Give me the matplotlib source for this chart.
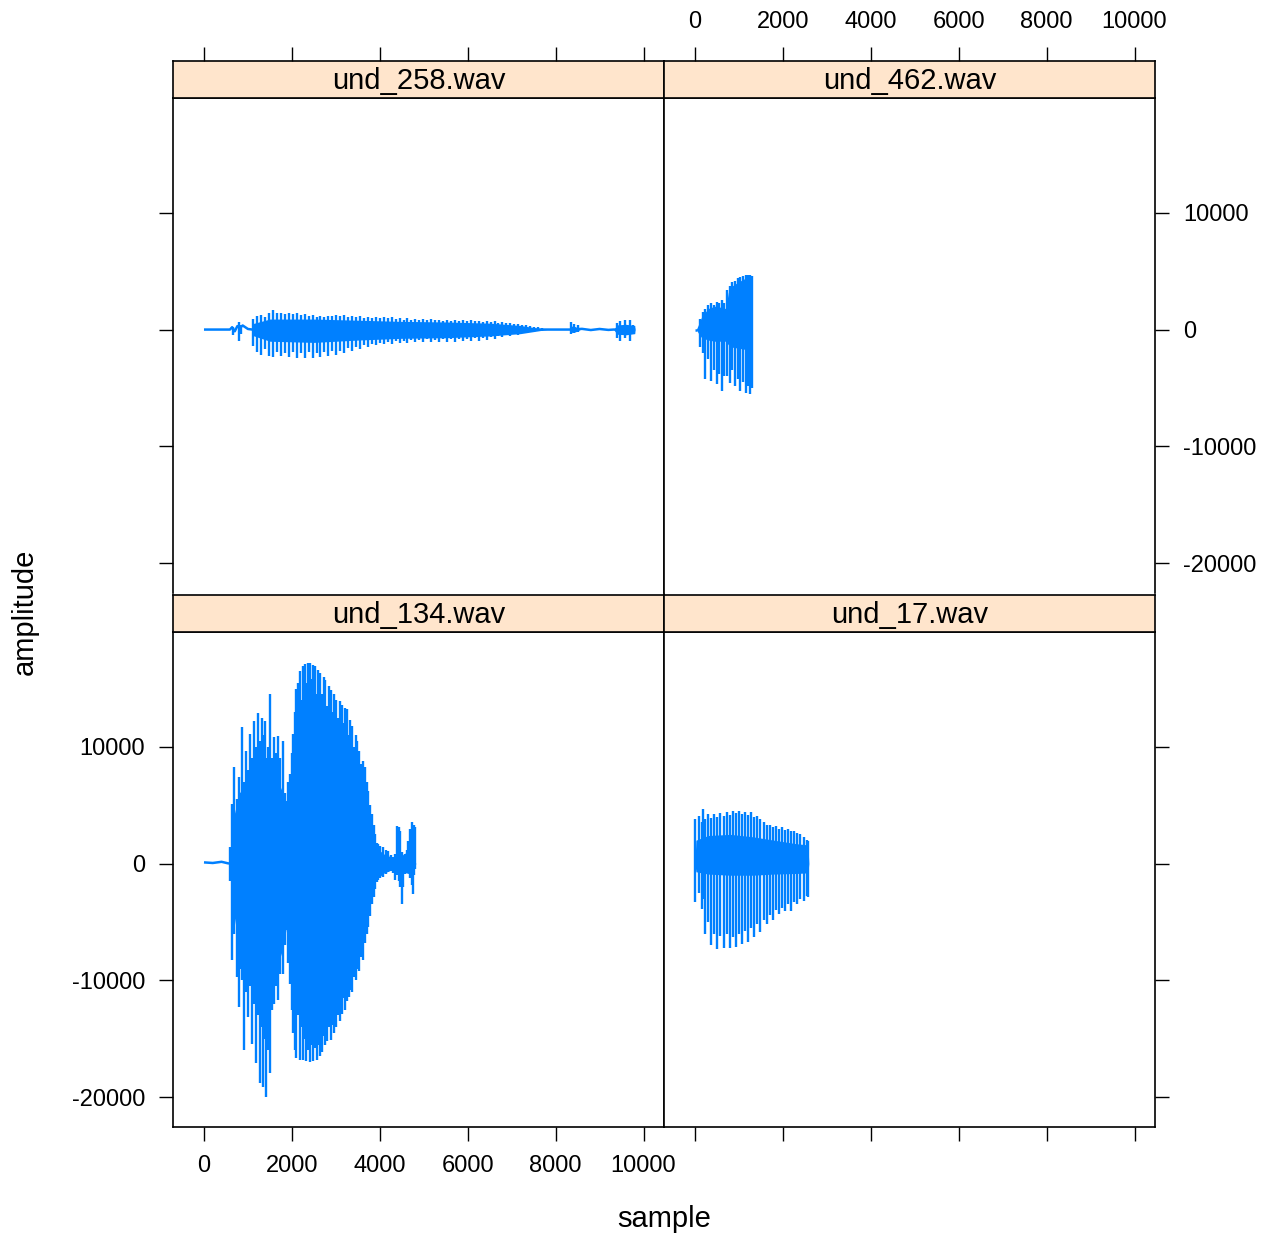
import numpy as np
import matplotlib
matplotlib.use("Agg")
import matplotlib.pyplot as plt

plt.rcParams['font.family'] = ['Liberation Sans', 'DejaVu Sans']
plt.rcParams['axes.unicode_minus'] = False

# panel names (lattice order: bottom-left, bottom-right, top-left, top-right)
files = ["und_258.wav", "und_462.wav", "und_134.wav", "und_17.wav"]
x_ticks = [0, 2000, 4000, 6000, 8000, 10000]
y_ticks = [-20000, -10000, 0, 10000]

# ---- und_258.wav ----
und258_trace_x = [0, 590, 640, 700, 760, 820, 880, 940, 1000, 1100, 7800, 8330, 8600, 8800, 9000, 9200, 9320, 9810]
und258_trace_y = [0, 0, 200, -150, 300, 150, 350, 200, 50, 0, 0, 0, 60, -40, 50, -30, 0, 0]
und258_core_x = [1100, 1500, 2500, 3500, 4500, 5500, 6500, 7200, 7800, 8330, 8350, 8450, 8560, 9320, 9400, 9600, 9800, 9810]
und258_core_hi = [500, 900, 900, 800, 700, 650, 550, 350, 0, 0, 300, 250, 0, 0, 400, 450, 350, 0]
und258_core_lo = [-500, -1000, -1100, -900, -750, -700, -550, -350, 0, 0, -250, -200, 0, 0, -400, -450, -350, 0]
und258_x = [668, 805, 850,
            1120, 1210, 1300, 1390, 1480, 1570, 1660, 1750, 1840, 1930, 2020, 2110, 2200, 2290, 2380,
            2470, 2560, 2650, 2740, 2830, 2920, 3010, 3100, 3190, 3280, 3370, 3460, 3550, 3640, 3730,
            3820, 3910, 4000, 4090, 4180, 4270, 4360, 4450, 4540, 4630, 4720, 4810, 4900, 4990, 5080,
            5170, 5260, 5350, 5440, 5530, 5620, 5710, 5800, 5890, 5980, 6070, 6160, 6250, 6340, 6430,
            6520, 6610, 6700, 6790, 6880, 6970, 7060, 7150, 7240, 7330, 7420, 7510, 7600, 7690, 7780,
            8350, 8420, 8500, 9393, 9469, 9583, 9697, 9772]
und258_hi = [200, 650, 400,
             900, 1150, 1250, 1100, 1400, 1650, 1400, 1450, 1300, 1420, 1350, 1400, 1250, 1300, 1200,
             1250, 1100, 1150, 1050, 1200, 1150, 1280, 1200, 1280, 1100, 1200, 1050, 1150, 1000, 1100,
             950, 1050, 950, 1080, 950, 1050, 900, 1000, 850, 950, 850, 900, 800, 880, 780,
             870, 800, 850, 750, 850, 760, 830, 740, 820, 720, 800, 700, 770, 680, 720,
             640, 700, 600, 640, 560, 560, 480, 480, 400, 380, 300, 260, 180, 130, 80,
             620, 500, 400, 570, 710, 800, 850, 430]
und258_lo = [-430, -1000, -350,
             -1400, -1900, -2150, -1700, -2300, -2350, -1900, -2300, -2000, -2380, -1900, -2400, -2000, -2420, -1950,
             -2400, -2000, -2350, -1900, -2250, -1800, -2150, -1800, -2000, -1600, -1850, -1500, -1650, -1350, -1500,
             -1250, -1350, -1150, -1250, -1050, -1200, -1000, -1150, -950, -1150, -900, -1100, -900, -1100, -850,
             -1080, -900, -1080, -850, -1050, -850, -1050, -800, -1000, -800, -1000, -750, -950, -700, -880,
             -650, -800, -550, -650, -500, -550, -420, -450, -330, -320, -250, -220, -160, -120, -80,
             -340, -300, -250, -710, -1000, -710, -1000, -280]

# ---- und_462.wav ----
und462_trace_x = [0, 40]
und462_trace_y = [0, 0]
und462_core_x = [30, 76, 152, 300, 450, 600, 700, 760, 830, 1000, 1150, 1290, 1300]
und462_core_hi = [0, 400, 1100, 1800, 2000, 1900, 1800, 3200, 3700, 4100, 4400, 4500, 0]
und462_core_lo = [0, -300, -700, -900, -1000, -1000, -1000, -1300, -1500, -1600, -1700, -1700, 0]
und462_x = [120, 175, 230, 300, 370, 430, 490, 550, 610, 670, 730, 790, 850, 910, 970, 1030, 1090, 1150, 1210, 1260, 1295]
und462_hi = [900, 1500, 1800, 2100, 2300, 2100, 2400, 2300, 2550, 2250, 3400, 3700, 4100, 4200, 4400, 4500, 4600, 4650, 4700, 4650, 4600]
und462_lo = [-1500, -2000, -4270, -2560, -4420, -3500, -4700, -3800, -5270, -4000, -3990, -4560, -3500, -4840, -4200, -5270, -4500, -5470, -4800, -5560, -5000]

# ---- und_134.wav ----
und134_trace_x = [0, 200, 400, 570]
und134_trace_y = [100, 50, 150, 0]
und134_core_x = [570, 600, 650, 800, 1000, 1200, 1400, 1600, 1800, 1900, 2000, 2200, 2400, 2600, 2800, 3000,
                 3200, 3400, 3600, 3750, 3900, 4100, 4300, 4500, 4700, 4820]
und134_core_hi = [0, 1200, 3600, 6000, 7200, 7800, 8400, 7800, 6000, 4200, 6600, 10800, 12000, 12000, 11400, 10200,
                  9000, 7200, 5400, 3600, 1400, 800, 500, 700, 1200, 0]
und134_core_lo = [0, -1200, -3600, -7200, -8400, -9600, -10800, -9600, -7200, -4800, -7800, -12000, -13200, -13200, -12000, -10800,
                  -9600, -8400, -6000, -4200, -1400, -800, -500, -700, -900, 0]
und134_x = [600, 640, 690, 740, 790, 840, 873, 905, 950, 1000, 1040, 1085, 1130, 1175, 1220, 1265, 1310, 1350,
            1390, 1420, 1460, 1511, 1550, 1590, 1640, 1690, 1740, 1800, 1850, 1880, 1920, 1960, 2000, 2030,
            2070, 2103, 2140, 2179, 2220, 2255, 2293, 2330, 2370, 2407, 2450, 2490, 2521, 2560, 2600, 2635,
            2680, 2720, 2760, 2800, 2840, 2880, 2920, 2960, 3000, 3040, 3090, 3130, 3170, 3210, 3250, 3290,
            3330, 3370, 3410, 3450, 3490, 3530, 3570, 3610, 3660, 3700, 3740, 3780, 3820, 3860, 3888, 3930,
            3964, 4010, 4077, 4130, 4191, 4250, 4305, 4350, 4396, 4430, 4457, 4495, 4533, 4571, 4610, 4647,
            4690, 4723, 4746, 4780, 4799]
und134_hi = [1400, 5100, 8230, 5500, 7380, 6000, 11710, 7000, 9660, 8000, 11080, 9000, 12220, 10000, 12930, 10500, 12500, 11000,
             12220, 9000, 10000, 14560, 9000, 10800, 9500, 10940, 9000, 10510, 6000, 5380, 7000, 7660, 9500, 11080,
             13000, 14930, 15500, 16500, 14000, 16900, 17070, 15500, 17150, 17210, 15800, 17000, 16930, 14500, 16600, 16350,
             14500, 16000, 15700, 13500, 15200, 14900, 13000, 14500, 14000, 12500, 13930, 13600, 12000, 13300, 13220, 11000,
             12300, 11800, 10000, 11000, 10500, 9660, 8500, 8800, 8230, 7000, 6240, 5000, 4250, 3300, 2540, 1800,
             1680, 1500, 1390, 1200, 1110, 700, 540, 800, 3250, 3100, 2800, 1000, 260, 800, 1200, 1970,
             3000, 3530, 2800, 3300, 3100]
und134_lo = [-1500, -8290, -6000, -9700, -12280, -9000, -10000, -15980, -11000, -13140, -10500, -15410, -12000, -17120, -13000, -18830, -14000, -19120,
             -15000, -19970, -16000, -17970, -12500, -11990, -10500, -11710, -9500, -9430, -7000, -5730, -8500, -10280, -12500, -14500,
             -16000, -16690, -13000, -16800, -14000, -16840, -15000, -16900, -16000, -16980, -15500, -16900, -15800, -16840, -15500, -16500,
             -16130, -14800, -15500, -15200, -14000, -15130, -13800, -14500, -13990, -13000, -13500, -12850, -11500, -12500, -11800, -11430,
             -10800, -11000, -9720, -10000, -9000, -9200, -8010, -8300, -6800, -6000, -5440, -4500, -3500, -2880, -2200, -1600,
             -1450, -1200, -1170, -900, -700, -600, -800, -1450, -1000, -1500, -2000, -3440, -2000, -880, -700, -600,
             -1200, -1800, -2590, -1000, -500]

# ---- und_17.wav ----
und17_trace_x = [0, 10]
und17_trace_y = [0, 0]
und17_core_x = [0, 20, 300, 800, 1300, 1800, 2300, 2570, 2590]
und17_core_hi = [0, 2000, 2400, 2500, 2300, 2000, 1700, 1600, 0]
und17_core_lo = [0, -700, -900, -1000, -1000, -900, -850, -800, 0]
und17_x = [10, 80, 150, 189, 230, 300, 370, 440, 510, 580, 650, 720, 790, 860, 930, 1000, 1070, 1140, 1210,
           1280, 1350, 1420, 1490, 1560, 1630, 1700, 1770, 1840, 1910, 1980, 2050, 2120, 2190, 2260, 2330,
           2400, 2470, 2540, 2580]
und17_hi = [3820, 4100, 3600, 4670, 3800, 4250, 3900, 4250, 4000, 4300, 4100, 4450, 4200, 4470, 4300, 4470, 4250, 4400, 4200,
            4390, 4000, 4100, 3800, 3530, 3300, 3300, 3150, 3250, 3000, 3100, 2900, 3000, 2800, 2820, 2600,
            2540, 2300, 2000, 1970]
und17_lo = [-3300, -2500, -3870, -3000, -6010, -5000, -7010, -6000, -7290, -6200, -7250, -6000, -7200, -6300, -7150, -6000, -6900, -5800, -6730,
            -5500, -6300, -5200, -5870, -4800, -5200, -4400, -4870, -4000, -4300, -3800, -4100, -3500, -4020, -3300, -3440,
            -3000, -3200, -2800, -2880]

line_col = "#0080ff"
strip_col = "#ffe5cc"
xlim = (-705, 10466)
ylim = (-22560, 19830)

fig = plt.figure(figsize=(12.77, 12.35), dpi=100)

W = 491 / 1277
panel_h = 495 / 1235
strip_h = 37 / 1235
lefts = [173 / 1277, 664 / 1277]
bottoms = [1 - 593 / 1235, 1 - 1127 / 1235]

panels = [
    (files[0], und258_trace_x, und258_trace_y, und258_core_x, und258_core_hi, und258_core_lo, und258_x, und258_hi, und258_lo),
    (files[1], und462_trace_x, und462_trace_y, und462_core_x, und462_core_hi, und462_core_lo, und462_x, und462_hi, und462_lo),
    (files[2], und134_trace_x, und134_trace_y, und134_core_x, und134_core_hi, und134_core_lo, und134_x, und134_hi, und134_lo),
    (files[3], und17_trace_x, und17_trace_y, und17_core_x, und17_core_hi, und17_core_lo, und17_x, und17_hi, und17_lo),
]

tick_fs = 17
lab_fs = 21

for i, (name, tx, ty, cx, chi, clo, sx, shi, slo) in enumerate(panels):
    row, col = divmod(i, 2)
    left = lefts[col]
    bottom = bottoms[row]
    ax = fig.add_axes([left, bottom, W, panel_h])
    sax = fig.add_axes([left, bottom + panel_h, W, strip_h])

    ax.plot(tx, ty, color=line_col, lw=1.8, solid_capstyle='butt')
    ax.fill_between(cx, chi, clo, color=line_col, lw=0)
    ax.vlines(sx, slo, shi, color=line_col, lw=1.7)
    ax.set_xlim(*xlim)
    ax.set_ylim(*ylim)

    for a in (ax, sax):
        for sp in a.spines.values():
            sp.set_linewidth(1.2)
            sp.set_color("black")
    if row == 0:
        ax.spines['bottom'].set_visible(False)

    # strip
    sax.set_facecolor(strip_col)
    sax.set_xlim(*xlim)
    sax.set_yticks([])
    sax.text(0.5, 0.45, name, transform=sax.transAxes, ha='center', va='center', fontsize=lab_fs)

    ax.set_xticks(x_ticks)
    ax.set_yticks(y_ticks)
    ax.tick_params(length=10, width=1, direction='out', labelsize=tick_fs, pad=10)
    sax.tick_params(length=10, width=1, direction='out', labelsize=tick_fs, pad=10)

    if row == 0:
        ax.tick_params(bottom=False, labelbottom=False)
        sax.set_xticks(x_ticks)
        sax.tick_params(top=True, labeltop=(col == 1), bottom=False, labelbottom=False)
    else:
        sax.set_xticks([])
        ax.tick_params(bottom=True, labelbottom=(col == 0))
    if col == 0:
        ax.tick_params(left=True, labelleft=(row == 1), right=False, labelright=False)
    else:
        ax.tick_params(left=False, labelleft=False, right=True, labelright=(row == 0))

fig.text(664 / 1277, 1 - 1219 / 1235, "sample", ha='center', va='center', fontsize=lab_fs)
fig.text(25 / 1277, 1 - 612 / 1235, "amplitude", ha='center', va='center', rotation=90, fontsize=lab_fs)

fig.savefig("out.png", dpi=100)
